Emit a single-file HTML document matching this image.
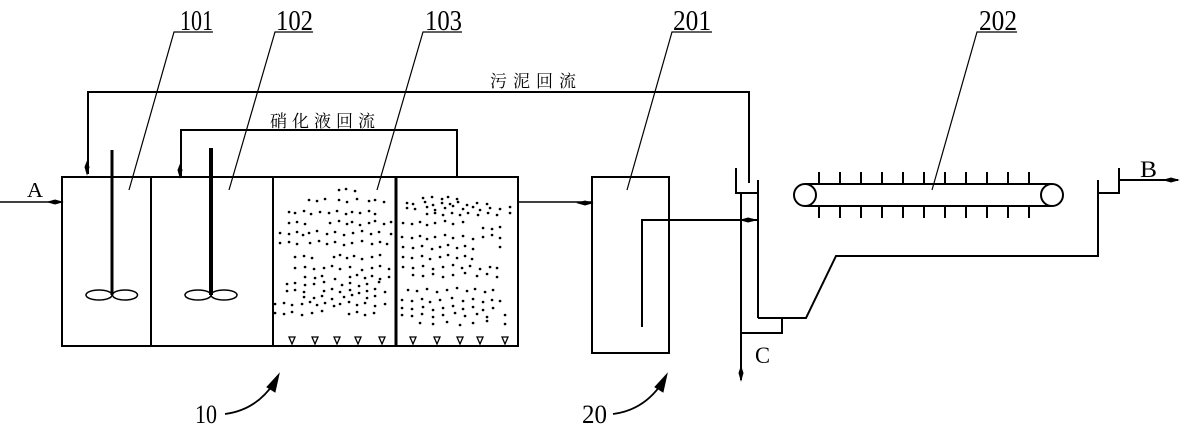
<!DOCTYPE html>
<html><head><meta charset="utf-8">
<style>
html,body{margin:0;padding:0;background:#fff;}
svg{display:block;}
.num{font-family:"Liberation Serif","Noto Serif CJK SC",serif;fill:#000;}
.cn{font-family:"Liberation Serif","Noto Serif CJK SC","Noto Sans CJK SC",serif;fill:#000;}
</style></head>
<body>
<svg width="1181" height="432" viewBox="0 0 1181 432" xmlns="http://www.w3.org/2000/svg">
<rect width="1181" height="432" fill="#fff"/>
<g stroke="#000" fill="none" stroke-width="2">
  <rect x="62" y="177" width="456" height="169"/>
  <line x1="151" y1="177" x2="151" y2="346"/>
  <line x1="273" y1="177" x2="273" y2="346"/>
  <line x1="396" y1="177" x2="396" y2="346" stroke-width="3"/>
  <line x1="0" y1="202" x2="62" y2="202" stroke-width="1.5"/>
  <line x1="518" y1="202" x2="592" y2="202" stroke-width="1.5"/>
  <rect x="592" y="177" width="77" height="176"/>
  <polyline points="642,327 642,220 758,220"/>
  <polyline points="749,183 749,92 88,92 88,174"/>
  <polyline points="457,177 457,130 181,130 181,177"/>
  <polyline points="736,168 736,193 758,193"/>
  <line x1="758" y1="180" x2="758" y2="318"/>
  <polyline points="758,318 806,318 836,256 1098,256 1098,180"/>
  <polyline points="1098,193 1119,193 1119,168"/>
  <line x1="1119" y1="180" x2="1178" y2="180"/>
  <line x1="741" y1="193" x2="741" y2="380"/>
  <polyline points="741,333 782,333 782,318"/>
  <line x1="805" y1="184" x2="1052" y2="184"/>
  <line x1="805" y1="206" x2="1052" y2="206"/>
  <circle cx="805" cy="195" r="11"/>
  <circle cx="1052" cy="195" r="11"/>
  <path d="M819 172V184M840 172V184M861 172V184M882 172V184M903 172V184M924 172V184M945 172V184M966 172V184M987 172V184M1008 172V184M1029 172V184
           M819 206V218M840 206V218M861 206V218M882 206V218M903 206V218M924 206V218M945 206V218M966 206V218M987 206V218M1008 206V218M1029 206V218"/>
  <line x1="112" y1="150" x2="112" y2="295" stroke-width="3"/>
  <ellipse cx="99" cy="295" rx="13" ry="5" stroke-width="1.5"/>
  <ellipse cx="125" cy="295" rx="12.5" ry="5" stroke-width="1.5"/>
  <line x1="211" y1="148" x2="211" y2="295" stroke-width="4"/>
  <ellipse cx="198" cy="295" rx="13" ry="5" stroke-width="1.5"/>
  <ellipse cx="224" cy="295" rx="13" ry="5" stroke-width="1.5"/>
  <g stroke-width="1.3">
    <path d="M289 337h6l-3 7z M312 337h6l-3 7z M334 337h6l-3 7z M355 337h6l-3 7z M379 337h6l-3 7z"/>
    <path d="M410 337h6l-3 7z M434 337h6l-3 7z M457 337h6l-3 7z M477 337h6l-3 7z M502 337h6l-3 7z"/>
  </g>
  <g stroke-width="1.2">
    <path d="M213 32H174L129 190"/>
    <path d="M313 32H275L229 190"/>
    <path d="M462 32H423L377 190"/>
    <path d="M712 32H672L627 190"/>
    <path d="M1017 32H977L932 190"/>
  </g>
  <path d="M225 414Q256 410 274 383" stroke-width="1.8"/>
  <path d="M613 414Q644 410 662 383" stroke-width="1.8"/>
</g>
<g fill="#000" stroke="#000" stroke-width="1">
  <path d="M87 174L85 167L87 162L89 167Z"/>
  <path d="M180 177L178 170L180 165L182 170Z"/>
  <path d="M62 202L55 200L48 202L55 204Z"/>
  <path d="M592 203L585 201L578 203L585 205Z"/>
  <path d="M741 220L748 218L756 220L748 222Z"/>
  <path d="M741 380L739 373L741 367L743 373Z"/>
  <path d="M1178 180L1171 178L1164 180L1171 182Z"/>
  <path d="M279 374L267 387L275 392Z"/>
  <path d="M667 374L655 387L663 392Z"/>
</g>
<path stroke="#000" stroke-width="2.6" stroke-linecap="round" fill="none" d="
M339 190h.1M346 189h.1M355 191h.1
M309 200h.1M317 201h.1M325 199h.1M339 200h.1M347 202h.1M357 199h.1M369 201h.1M375 200h.1M384 202h.1
M289 212h.1M295 213h.1M304 211h.1M311 214h.1M320 212h.1M329 213h.1M337 211h.1M346 214h.1M352 212h.1M360 213h.1M369 211h.1M375 214h.1
M289 223h.1M297 222h.1M305 224h.1M330 223h.1M339 221h.1M347 224h.1M352 222h.1M360 225h.1M369 223h.1M375 221h.1M384 224h.1M391 222h.1
M280 233h.1M289 234h.1M297 232h.1M303 235h.1M309 233h.1M317 231h.1M327 234h.1M335 232h.1M344 235h.1M353 233h.1M362 231h.1M371 234h.1M379 232h.1M391 234h.1
M280 243h.1M289 242h.1M297 244h.1M310 243h.1M319 241h.1M327 244h.1M335 242h.1M344 245h.1M352 243h.1M362 241h.1M372 244h.1M380 242h.1M387 244h.1
M295 257h.1M304 256h.1M312 258h.1M334 257h.1M340 255h.1M347 258h.1M354 256h.1M362 259h.1M372 257h.1M380 255h.1
M295 268h.1M305 267h.1M314 269h.1M324 268h.1M332 266h.1M340 269h.1M350 267h.1M362 270h.1M372 268h.1M380 266h.1M389 269h.1
M305 277h.1M315 278h.1M322 276h.1M335 279h.1M350 277h.1M357 275h.1M365 278h.1M372 276h.1M380 279h.1M389 277h.1
M287 284h.1M295 283h.1M305 285h.1M314 284h.1M324 282h.1M342 285h.1M350 283h.1M359 286h.1M367 284h.1M379 282h.1
M287 291h.1M295 290h.1M304 292h.1M324 291h.1M332 289h.1M340 292h.1M350 290h.1M359 293h.1M367 291h.1M375 289h.1M385 292h.1
M304 297h.1M314 298h.1M322 296h.1M332 299h.1M344 297h.1M352 295h.1M367 298h.1M375 296h.1
M275 304h.1M284 303h.1M292 305h.1M302 304h.1M310 302h.1M317 305h.1M325 303h.1M334 306h.1M340 304h.1M349 302h.1M357 305h.1M365 303h.1M375 306h.1M385 304h.1
M275 313h.1M284 314h.1M292 312h.1M302 315h.1M312 313h.1M322 311h.1M349 314h.1M357 312h.1M365 315h.1M374 313h.1
M423 198h.1M432 197h.1M442 199h.1M448 197h.1M457 199h.1
M407 203h.1M413 204h.1M425 202h.1M433 205h.1M442 203h.1M450 204h.1M458 202h.1M467 205h.1M477 203h.1M487 204h.1
M407 208h.1M415 209h.1M427 207h.1M435 210h.1M445 208h.1M453 206h.1M463 209h.1M473 207h.1M480 210h.1M490 208h.1M500 209h.1M510 207h.1
M427 214h.1M435 213h.1M443 215h.1M452 213h.1M460 215h.1M468 213h.1M478 215h.1M488 213h.1M497 215h.1M510 213h.1
M403 223h.1M412 224h.1M420 222h.1M427 225h.1M435 223h.1M445 221h.1M453 224h.1M463 222h.1
M483 228h.1M492 229h.1M500 227h.1
M402 237h.1M412 238h.1M420 236h.1M427 239h.1M435 237h.1M445 235h.1M453 238h.1M463 236h.1M473 239h.1M483 237h.1M492 235h.1M500 238h.1
M403 247h.1M413 248h.1M422 246h.1M432 249h.1M440 247h.1M448 245h.1M457 248h.1M465 246h.1M473 249h.1M500 247h.1
M403 257h.1M412 258h.1M422 256h.1M430 259h.1M440 257h.1M448 255h.1M457 258h.1M465 256h.1M472 259h.1
M403 267h.1M413 268h.1M423 266h.1M433 269h.1M443 267h.1M453 265h.1M462 268h.1M470 266h.1M480 269h.1M490 267h.1M497 268h.1
M413 275h.1M423 276h.1M433 274h.1M443 277h.1M453 275h.1M465 273h.1M477 276h.1M487 274h.1M497 277h.1
M408 290h.1M417 291h.1M427 289h.1M437 292h.1M447 290h.1M457 288h.1M467 291h.1M475 289h.1M485 292h.1M493 290h.1
M402 300h.1M412 301h.1M422 299h.1M430 302h.1M440 300h.1M452 298h.1M463 301h.1M473 299h.1M483 302h.1M492 300h.1M500 301h.1
M402 308h.1M412 309h.1M423 307h.1M433 310h.1M443 308h.1M453 306h.1M463 309h.1M473 307h.1M483 310h.1M493 308h.1
M402 315h.1M412 316h.1M422 314h.1M433 317h.1M443 315h.1M455 313h.1M465 316h.1M477 314h.1M487 317h.1M505 315h.1
M420 323h.1M433 324h.1M447 322h.1M460 325h.1M473 323h.1M487 321h.1M505 324h.1"/>
<text class="num" x="180" y="30" font-size="28" textLength="33" lengthAdjust="spacingAndGlyphs">101</text>
<text class="num" x="276" y="30" font-size="28" textLength="37" lengthAdjust="spacingAndGlyphs">102</text>
<text class="num" x="425" y="30" font-size="28" textLength="37" lengthAdjust="spacingAndGlyphs">103</text>
<text class="num" x="673" y="30" font-size="28" textLength="38" lengthAdjust="spacingAndGlyphs">201</text>
<text class="num" x="979" y="30" font-size="28" textLength="38" lengthAdjust="spacingAndGlyphs">202</text>
<text class="num" x="195" y="423" font-size="26" textLength="22" lengthAdjust="spacingAndGlyphs">10</text>
<text class="num" x="582" y="423" font-size="26" textLength="25" lengthAdjust="spacingAndGlyphs">20</text>
<text class="num" x="27" y="197" font-size="21" textLength="16" lengthAdjust="spacingAndGlyphs">A</text>
<text class="num" x="1140" y="177" font-size="23" textLength="17" lengthAdjust="spacingAndGlyphs">B</text>
<text class="num" x="755" y="363" font-size="23" textLength="15" lengthAdjust="spacingAndGlyphs">C</text>
<text class="cn" x="270" y="127" font-size="17" textLength="105" lengthAdjust="spacing">硝化液回流</text>
<text class="cn" x="490" y="87" font-size="17" textLength="86" lengthAdjust="spacing">污泥回流</text>
</svg>
</body></html>
